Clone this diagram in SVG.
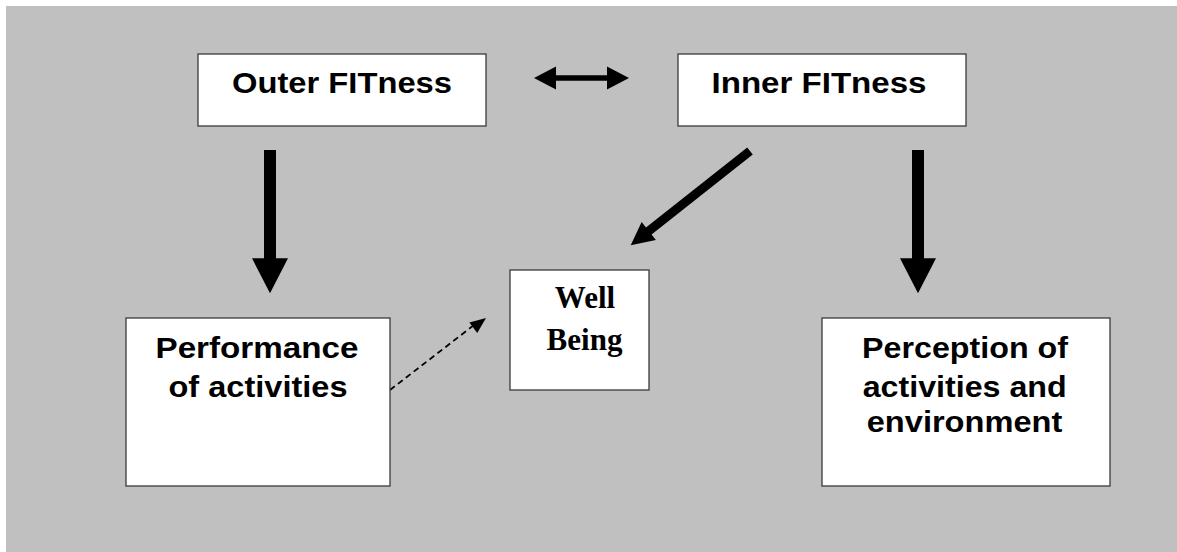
<svg xmlns="http://www.w3.org/2000/svg" width="1177" height="552" viewBox="0 0 1177 552">
<style>
.box{fill:#fff;stroke:#3a3a3a;stroke-width:1.3}
.t{font-family:"Liberation Sans",Arial,sans-serif;font-weight:bold;font-size:30px;fill:#000;text-anchor:middle}
.tt{font-family:"Liberation Serif","Times New Roman",serif;font-weight:bold;font-size:31px;fill:#000;text-anchor:middle}
.arr{fill:#000}
</style>
<rect x="6" y="6" width="1171" height="546" fill="#C0C0C0"/>
<g id="connectors">
<polygon class="arr" points="534,78 556,66.5 556,75.2 607,75.2 607,66.5 629,78 607,89.5 607,80.8 556,80.8 556,89.5"/>
<polygon class="arr" points="264,150 276,150 276,258.3 288,258.3 270,293.3 252,258.3 264,258.3"/>
<polygon class="arr" points="912,150 924,150 924,258.3 936,258.3 918,293.3 900,258.3 912,258.3"/>
<polygon class="arr" transform="translate(750,151) rotate(141.7)" points="0,-4.5 129,-4.5 129,-11.5 152,0 129,11.5 129,4.5 0,4.5"/>
<path d="M390,390 L476,323.5" fill="none" stroke="#000" stroke-width="1.8" stroke-dasharray="6,4"/>
<polygon class="arr" transform="translate(486,318) rotate(-37.5)" points="0,0 -16,-6.5 -16,6.5"/>
</g>
<g id="outer">
<rect class="box" x="198" y="54" width="288" height="72"/>
<text class="t" x="342" y="93" textLength="220" lengthAdjust="spacingAndGlyphs">Outer FITness</text>
</g>
<g id="inner">
<rect class="box" x="678" y="54" width="288" height="72"/>
<text class="t" x="819" y="93" textLength="215" lengthAdjust="spacingAndGlyphs">Inner FITness</text>
</g>
<g id="wellbeing">
<rect class="box" x="510" y="270" width="139" height="120"/>
<text class="tt" x="585" y="308">Well</text>
<text class="tt" x="584.5" y="350">Being</text>
</g>
<g id="performance">
<rect class="box" x="126" y="318" width="264" height="168"/>
<text class="t" x="257" y="358" textLength="203" lengthAdjust="spacingAndGlyphs">Performance</text>
<text class="t" x="258" y="396.5" textLength="179" lengthAdjust="spacingAndGlyphs">of activities</text>
</g>
<g id="perception">
<rect class="box" x="822" y="318" width="288" height="168"/>
<text class="t" x="965" y="358" textLength="206" lengthAdjust="spacingAndGlyphs">Perception of</text>
<text class="t" x="964.7" y="396.5" textLength="204" lengthAdjust="spacingAndGlyphs">activities and</text>
<text class="t" x="964.5" y="432" textLength="195.5" lengthAdjust="spacingAndGlyphs">environment</text>
</g>
</svg>
